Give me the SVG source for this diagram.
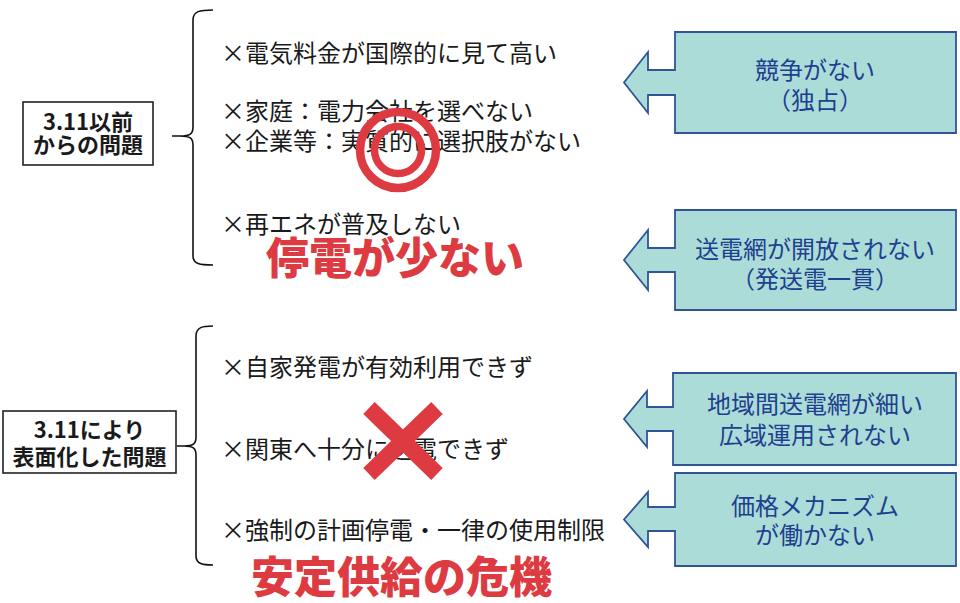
<svg xmlns="http://www.w3.org/2000/svg" width="960" height="603" viewBox="0 0 960 603">
<style>
.t{font-family:"Noto Sans CJK JP","Noto Sans",sans-serif;font-size:24px;fill:#1a1a1a;dominant-baseline:central}
.lb{font-family:"Noto Sans CJK JP","Noto Sans",sans-serif;font-size:22px;font-weight:700;fill:#1a1a1a;text-anchor:middle;dominant-baseline:central}
.bx{fill:#fff;stroke:#222;stroke-width:1.6}
.br{fill:none;stroke:#111;stroke-width:1.6}
.cl{fill:#acdcd8;stroke:#2f5597;stroke-width:1.8;stroke-linejoin:miter}
.ct{font-family:"Noto Sans CJK JP","Noto Sans",sans-serif;font-size:24px;fill:#1f3f8f;text-anchor:middle;dominant-baseline:central}
.rd{font-family:"Noto Sans CJK JP","Noto Sans",sans-serif;font-size:43px;font-weight:900;fill:#dd3b41;dominant-baseline:central}
.mk{fill:none;stroke:#dd3b41}
</style>
<g id="connectors">
<path class="br" d="M213,10 C200,10 193,11 193,20 L193,127 C193,134 190,136 180,136 L172,136 M180,136 C190,136 193,138 193,145 L193,256 C193,264 200,265 213,265"/>
<path class="br" d="M213,326 C203,326 196,327 196,336 L196,437 C196,444 193,446 184,446 L177,446 M184,446 C193,446 196,448 196,455 L196,556 C196,564 203,565 213,565"/>
</g>
<g id="node-before">
<rect class="bx" x="23" y="102" width="130" height="63"/>
<text class="lb" x="88" y="120">3.11以前</text>
<text class="lb" x="88" y="143">からの問題</text>
</g>
<g id="node-after">
<rect class="bx" x="3" y="411" width="173" height="62"/>
<text class="lb" x="89.5" y="428">3.11により</text>
<text class="lb" x="89.5" y="455">表面化した問題</text>
</g>
<g id="items-before">
<text class="t" x="221" y="51">×電気料金が国際的に見て高い</text>
<text class="t" x="221" y="109">×家庭：電力会社を選べない</text>
<text class="t" x="221" y="139">×企業等：実質的に選択肢がない</text>
<text class="t" x="221" y="222">×再エネが普及しない</text>
</g>
<g id="items-after">
<text class="t" x="221" y="365">×自家発電が有効利用できず</text>
<text class="t" x="221" y="447">×関東へ十分に送電できず</text>
<text class="t" x="221" y="528">×強制の計画停電・一律の使用制限</text>
</g>
<g id="mark-double-circle">
<circle class="mk" cx="398" cy="150" r="38" stroke-width="8.5"/>
<circle class="mk" cx="398" cy="150" r="23.5" stroke-width="7.5"/>
</g>
<g id="mark-cross">
<path class="mk" stroke-width="16.5" d="M369,408 L437,474 M437,408 L369,474"/>
</g>
<g id="headline-before">
<text class="rd" x="266" y="255">停電が少ない</text>
</g>
<g id="headline-after">
<text class="rd" x="251" y="574">安定供給の危機</text>
</g>
<g id="cause-1">
<path class="cl" d="M675,32 H956 V133 H675 V95 H648 V113 L624,82.5 L648,52 V70 H675 Z"/>
<text class="ct" x="815" y="68">競争がない</text>
<text class="ct" x="815" y="98">（独占）</text>
</g>
<g id="cause-2">
<path class="cl" d="M675,210 H956 V310 H675 V272 H648 V290 L624,260 L648,230 V248 H675 Z"/>
<text class="ct" x="815" y="247">送電網が開放されない</text>
<text class="ct" x="815" y="277">（発送電一貫）</text>
</g>
<g id="cause-3">
<path class="cl" d="M673,373 H956 V465 H673 V431 H647 V447 L624,419 L647,391 V407 H673 Z"/>
<text class="ct" x="815" y="402">地域間送電網が細い</text>
<text class="ct" x="815" y="433">広域運用されない</text>
</g>
<g id="cause-4">
<path class="cl" d="M675,473 H956 V566 H675 V531 H648 V547 L624,519.5 L648,492 V507 H675 Z"/>
<text class="ct" x="815" y="504">価格メカニズム</text>
<text class="ct" x="815" y="533">が働かない</text>
</g>
</svg>
